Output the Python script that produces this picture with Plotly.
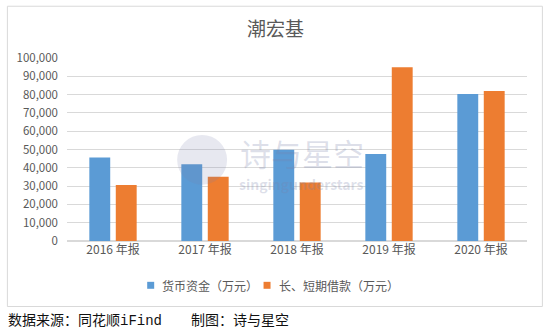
import plotly.graph_objects as go

categories = ["2016 年报", "2017 年报", "2018 年报", "2019 年报", "2020 年报"]
cash = [45600, 42000, 49800, 47600, 80300]
loans = [30600, 35100, 32000, 94900, 81900]
series_names = ["货币资金（万元）", "长、短期借款（万元）"]
tick_vals = [0, 10000, 20000, 30000, 40000, 50000, 60000, 70000, 80000, 90000, 100000]
tick_text = ["0", "10,000", "20,000", "30,000", "40,000", "50,000", "60,000", "70,000", "80,000", "90,000", "100,000"]
colors = ["#5B9BD5", "#ED7D31"]

W, H = 554, 333
L, R, T, B = 66.7, 26.7, 57.7, 91.5
pw = W - L - R
ph = H - T - B

def px(x):
    return (x - L) / pw

def py(y):
    return (H - B - y) / ph

FONT = "Noto Sans CJK SC, Noto Sans, sans-serif"
GRAY = "#595959"

fig = go.Figure()
fig.add_trace(go.Bar(x=categories, y=cash, name=series_names[0], marker=dict(color=colors[0], line=dict(width=0))))
fig.add_trace(go.Bar(x=categories, y=loans, name=series_names[1], marker=dict(color=colors[1], line=dict(width=0))))

fig.update_layout(
    width=W, height=H,
    margin=dict(l=L, r=R, t=T, b=B, pad=0),
    paper_bgcolor="white", plot_bgcolor="white",
    barmode="group", bargap=0.425, bargroupgap=0.21,
    font=dict(family=FONT, color=GRAY, size=11),
    showlegend=False,
    xaxis=dict(showgrid=False, showline=False, ticks="", tickfont=dict(size=12, color=GRAY), fixedrange=True),
    yaxis=dict(range=[0, 100000], tickvals=tick_vals, ticktext=tick_text, showgrid=True,
               gridcolor="#d9d9d9", gridwidth=1, zeroline=True, zerolinecolor="#d9d9d9",
               ticks="", ticklabelstandoff=8, tickfont=dict(size=11.5, color=GRAY), showline=False),
)

# outer chart frame
fig.add_shape(type="rect", xref="paper", yref="paper",
              x0=px(7), x1=px(542.7), y0=py(307.3), y1=py(5.7),
              line=dict(color="#d9d9d9", width=1), fillcolor="rgba(0,0,0,0)", layer="below")

# watermark
fig.add_shape(type="circle", xref="paper", yref="paper",
              x0=px(177), x1=px(227), y0=py(185), y1=py(135),
              line=dict(width=0), fillcolor="rgba(120,130,170,0.18)", layer="above")
fig.add_annotation(x=px(238), y=py(153), xref="paper", yref="paper", xanchor="left", yanchor="middle",
                   text="诗与星空", showarrow=False, font=dict(size=31, color="rgba(120,130,170,0.25)", family=FONT))
fig.add_annotation(x=px(237), y=py(184), xref="paper", yref="paper", xanchor="left", yanchor="middle",
                   text="<b>singingunderstars</b>", showarrow=False, font=dict(size=14, color="rgba(120,130,170,0.25)", family=FONT))

# title
fig.add_annotation(x=px(275), y=py(27), xref="paper", yref="paper", xanchor="center", yanchor="middle",
                   text="潮宏基", showarrow=False, font=dict(size=19, color=GRAY, family=FONT))

# legend (drawn manually)
legend_items = [(147, 160), (263.5, 277)]
for (sx, tx), name, c in zip(legend_items, series_names, colors):
    fig.add_shape(type="rect", xref="paper", yref="paper",
                  x0=px(sx), x1=px(sx + 7), y0=py(289.5), y1=py(282.5),
                  line=dict(width=0), fillcolor=c)
    fig.add_annotation(x=px(tx), y=py(286), xref="paper", yref="paper", xanchor="left", yanchor="middle",
                       text=name, showarrow=False, font=dict(size=12, color=GRAY, family=FONT))

# footer
fig.add_annotation(x=px(6), y=py(320), xref="paper", yref="paper", xanchor="left", yanchor="middle",
                   text="数据来源：同花顺<span style=\"font-family:'Liberation Mono', 'DejaVu Sans Mono', monospace\">iFind</span>",
                   showarrow=False, font=dict(size=14, color="#111111", family=FONT))
fig.add_annotation(x=px(189), y=py(320), xref="paper", yref="paper", xanchor="left", yanchor="middle",
                   text="制图：诗与星空", showarrow=False, font=dict(size=14, color="#111111", family=FONT))

fig.write_html("out.html")
